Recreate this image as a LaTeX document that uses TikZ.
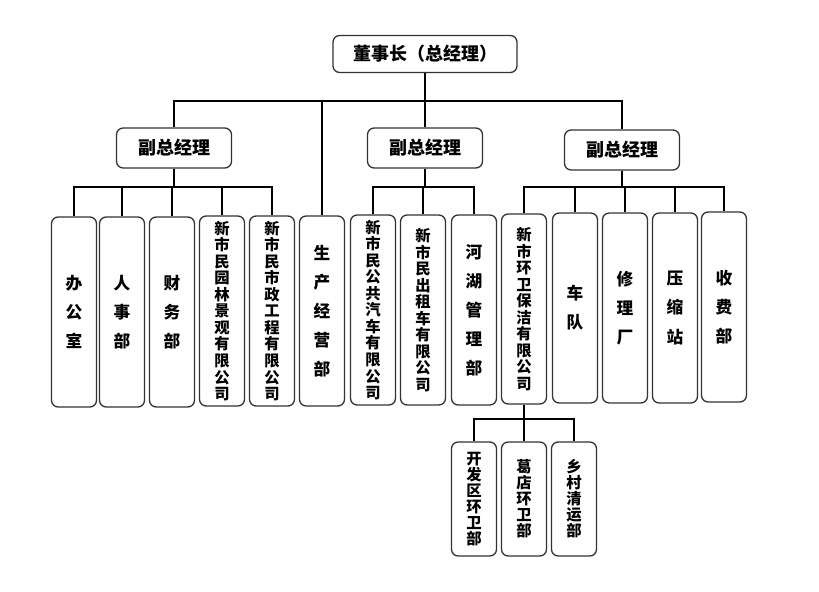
\documentclass[tikz,border=0pt]{standalone}
\usepackage{fontspec}
\newfontfamily\cjk{Noto Sans CJK SC}
\usepackage{tikz}

\begin{document}
\begin{tikzpicture}[x=0.75pt,y=-0.75pt]
\tikzstyle{every node}=[font=\cjk\bfseries]
\tikzstyle{boss}=[draw=black!80, line width=1pt, rounded corners=5pt, minimum width=138pt, minimum height=27.75pt, inner sep=0pt, font=\cjk\bfseries\fontsize{13.5}{16}\selectfont]
\tikzstyle{vice}=[boss, minimum width=86.25pt, minimum height=30pt]
\tikzstyle{dept}=[draw=black!80, line width=1pt, rounded corners=5pt, minimum width=33.75pt, minimum height=142.5pt, inner sep=0pt, align=center, font=\cjk\bfseries\fontsize{12.5}{21.8}\selectfont]
\tikzstyle{corp}=[dept, font=\cjk\bfseries\fontsize{11.5}{12.4}\selectfont]
\tikzstyle{team}=[corp, minimum height=85.5pt, font=\cjk\bfseries\fontsize{11.5}{12}\selectfont]
\tikzstyle{wire}=[line width=1.3pt]
\useasboundingbox (0,0) rectangle (819,592);
\node[boss] (dsz) at (425,54) {董事长（总经理）};
\node[vice] (vl) at (174,148) {副总经理};
\node[vice] (vm) at (425,148) {副总经理};
\node[vice] (vr) at (622,150) {副总经理};
\node[dept] (bgs) at (74,312) {办\\公\\室};
\node[dept] (rsb) at (122,312) {人\\事\\部};
\node[dept] (cwb) at (172,312) {财\\务\\部};
\node[corp] (ylgs) at (222,311) {新\\市\\民\\园\\林\\景\\观\\有\\限\\公\\司};
\node[corp] (szgs) at (272,311) {新\\市\\民\\市\\政\\工\\程\\有\\限\\公\\司};
\node[dept] (scjy) at (322,311) {生\\产\\经\\营\\部};
\node[corp] (ggqc) at (373,310) {新\\市\\民\\公\\共\\汽\\车\\有\\限\\公\\司};
\node[corp] (czc) at (423,310) {新\\市\\民\\出\\租\\车\\有\\限\\公\\司};
\node[dept] (hhgl) at (474,310) {河\\湖\\管\\理\\部};
\node[corp] (hwbj) at (524,309) {新\\市\\环\\卫\\保\\洁\\有\\限\\公\\司};
\node[dept] (cd) at (575,308) {车\\队};
\node[dept] (xlc) at (625,308) {修\\理\\厂};
\node[dept] (ysz) at (675,308) {压\\缩\\站};
\node[dept] (sfb) at (724,307) {收\\费\\部};
\node[team] (kfq) at (474,499) {开\\发\\区\\环\\卫\\部};
\node[team] (gd) at (524,499) {葛\\店\\环\\卫\\部};
\node[team] (xcqy) at (574,499) {乡\\村\\清\\运\\部};
\coordinate (top) at (0,101);
\coordinate (bus) at (0,187);
\coordinate (sub) at (0,419);
\foreach \n in {vl,scjy,vm,vr}
  \draw[wire] (dsz.south) -- (dsz.south |- top) -| (\n.north);
\foreach \n in {bgs,rsb,cwb,ylgs,szgs}
  \draw[wire] (vl.south) -- (vl.south |- bus) -| (\n.north);
\foreach \n in {ggqc,czc,hhgl}
  \draw[wire] (vm.south) -- (vm.south |- bus) -| (\n.north);
\foreach \n in {hwbj,cd,xlc,ysz,sfb}
  \draw[wire] (vr.south) -- (vr.south |- bus) -| (\n.north);
\foreach \n in {kfq,gd,xcqy}
  \draw[wire] (hwbj.south) -- (hwbj.south |- sub) -| (\n.north);
\end{tikzpicture}
\end{document}
